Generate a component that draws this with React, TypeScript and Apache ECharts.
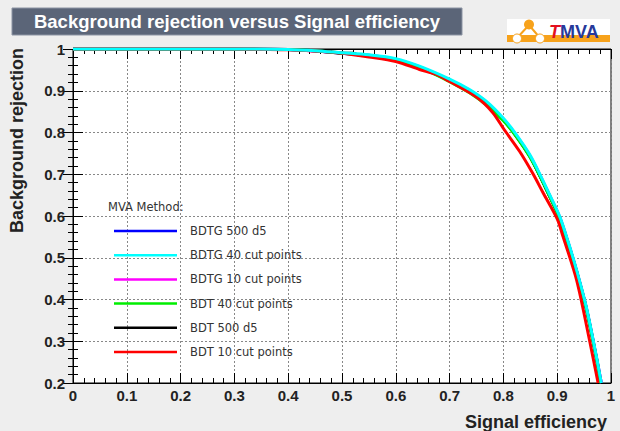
import React, { useEffect, useRef } from "react";
import * as echarts from "echarts";

// ---- Data ----
const seriesNames = [
  "BDTG 500 d5",
  "BDTG 40 cut points",
  "BDTG 10 cut points",
  "BDT 40 cut points",
  "BDT 500 d5",
  "BDT 10 cut points",
];
const seriesColors = ["#0000ff", "#00ffff", "#ff00ff", "#00ee00", "#000000", "#ff0000"];

const bdtg40cuts: [number, number][] = [
  [0, 1], [0.3, 1], [0.4, 0.999], [0.45, 0.996], [0.5, 0.991], [0.55, 0.986], [0.6, 0.977],
  [0.644, 0.959], [0.7, 0.928], [0.737, 0.903], [0.768, 0.875], [0.8, 0.834], [0.824, 0.795],
  [0.849, 0.747], [0.8675, 0.701], [0.886, 0.651], [0.905, 0.598], [0.92, 0.54],
  [0.936, 0.471], [0.954, 0.383], [0.973, 0.263], [0.982, 0.2],
];
const bdtg500d5: [number, number][] = [
  [0, 1], [0.3, 1], [0.4, 0.999], [0.45, 0.996], [0.5, 0.99], [0.55, 0.985], [0.6, 0.975],
  [0.644, 0.957], [0.7, 0.925], [0.737, 0.9], [0.768, 0.872], [0.8, 0.831], [0.824, 0.792],
  [0.849, 0.744], [0.8675, 0.698], [0.886, 0.648], [0.905, 0.595], [0.92, 0.537],
  [0.936, 0.468], [0.954, 0.38], [0.973, 0.26], [0.982, 0.2],
];
const bdtg10cuts: [number, number][] = [
  [0, 1], [0.3, 1], [0.4, 0.999], [0.45, 0.995], [0.5, 0.99], [0.55, 0.984], [0.6, 0.975],
  [0.644, 0.957], [0.7, 0.926], [0.737, 0.901], [0.768, 0.873], [0.8, 0.832], [0.824, 0.793],
  [0.849, 0.745], [0.8675, 0.699], [0.886, 0.649], [0.905, 0.596], [0.92, 0.538],
  [0.936, 0.469], [0.954, 0.381], [0.973, 0.261], [0.982, 0.2],
];
const bdt40cuts: [number, number][] = [
  [0, 1], [0.3, 1], [0.4, 0.999], [0.45, 0.996], [0.5, 0.99], [0.55, 0.984], [0.6, 0.974],
  [0.644, 0.956], [0.7, 0.922], [0.737, 0.895], [0.768, 0.866], [0.8, 0.828], [0.824, 0.79],
  [0.849, 0.742], [0.8675, 0.697], [0.886, 0.647], [0.905, 0.593], [0.92, 0.535],
  [0.936, 0.466], [0.954, 0.378], [0.973, 0.258], [0.981, 0.2],
];
const bdt500d5: [number, number][] = [
  [0, 1], [0.3, 1], [0.4, 0.999], [0.45, 0.996], [0.5, 0.99], [0.52, 0.99], [0.53, 0.986],
  [0.55, 0.984], [0.6, 0.974], [0.644, 0.956], [0.7, 0.924], [0.737, 0.898], [0.768, 0.87],
  [0.8, 0.83], [0.824, 0.791], [0.849, 0.743], [0.8675, 0.697], [0.886, 0.647], [0.905, 0.594],
  [0.92, 0.536], [0.936, 0.467], [0.954, 0.379], [0.973, 0.259], [0.981, 0.2],
];
const bdt10cuts: [number, number][] = [
  [0, 1], [0.3, 1], [0.35, 0.999], [0.4, 0.998], [0.45, 0.995], [0.5, 0.99], [0.55, 0.981],
  [0.6, 0.97], [0.644, 0.951], [0.675, 0.939], [0.7, 0.922], [0.75, 0.885], [0.78, 0.848],
  [0.802, 0.806], [0.83, 0.755], [0.855, 0.701], [0.874, 0.655], [0.9, 0.593], [0.911, 0.55],
  [0.936, 0.447], [0.96, 0.303], [0.976, 0.2],
];
const seriesData = [bdtg500d5, bdtg40cuts, bdtg10cuts, bdt40cuts, bdt500d5, bdt10cuts];
// drawing order (cyan on top of the overlapping BDTG curves)
const drawOrder = [0, 2, 4, 3, 5, 1];

const xMin = 0, xMax = 1, xStep = 0.1;
const yMin = 0.2, yMax = 1, yStep = 0.1;

const titleText = "Background rejection versus Signal efficiency";
const xTitle = "Signal efficiency";
const yTitle = "Background rejection";
const legendHeader = "MVA Method:";

const FONT = "'Liberation Sans', Arial, Helvetica, sans-serif";
const LEGEND_FONT = "'DejaVu Sans', Verdana, sans-serif";

export default function App() {
  const ref = useRef<HTMLDivElement>(null);
  useEffect(() => {
    if (!ref.current) return;
    const chart = echarts.init(ref.current, null, { renderer: "svg" });
    const fmt = (v: number) => String(Math.round(v * 10) / 10);
    const tickCommon = {
      axisLine: { show: true, lineStyle: { color: "#000", width: 1 } },
      axisTick: { show: true, inside: true, length: 10, lineStyle: { color: "#000" } },
      minorTick: { show: true, splitNumber: 5, length: 5, lineStyle: { color: "#000" } },
    };
    chart.setOption({
      animation: false,
      backgroundColor: "#eeeeee",
      grid: {
        left: 73, right: 9, top: 49, bottom: 48,
        show: true, backgroundColor: "#ffffff", borderColor: "#000", borderWidth: 1,
      },
      xAxis: [
        {
          type: "value", min: xMin, max: xMax, interval: xStep, position: "bottom",
          ...tickCommon,
          axisLabel: { formatter: fmt, fontSize: 15, fontWeight: "bold", color: "#222", fontFamily: FONT, margin: 5 },
          splitLine: { show: true, lineStyle: { type: [2, 2], color: "#888", width: 1 } },
        },
        {
          type: "value", min: xMin, max: xMax, interval: xStep, position: "top",
          ...tickCommon, axisLabel: { show: false }, splitLine: { show: false },
        },
      ],
      yAxis: [
        {
          type: "value", min: yMin, max: yMax, interval: yStep, position: "left",
          ...tickCommon,
          axisLabel: { formatter: fmt, fontSize: 15, fontWeight: "bold", color: "#222", fontFamily: FONT, margin: 8 },
          splitLine: { show: true, lineStyle: { type: [2, 2], color: "#888", width: 1 } },
        },
        {
          type: "value", min: yMin, max: yMax, interval: yStep, position: "right",
          ...tickCommon, axisLabel: { show: false }, splitLine: { show: false },
        },
      ],
      legend: {
        data: seriesNames,
        orient: "vertical",
        left: 114, top: 225,
        itemWidth: 63, itemHeight: 14, itemGap: 12.2,
        icon: "path://M0,0L63,0L63,2.5L0,2.5Z",
        symbolKeepAspect: true,
        padding: 0,
        textStyle: { fontSize: 11.5, color: "#333", fontFamily: LEGEND_FONT, padding: [0, 0, 0, 8] },
        selectedMode: false,
      },
      graphic: [
        {
          type: "rect", shape: { x: 12, y: 8, width: 450, height: 27 },
          style: { fill: "#5b6578", stroke: "#8c94a3", lineWidth: 1 },
        },
        {
          type: "text", x: 237, y: 21.5,
          style: { text: titleText, fill: "#ffffff", font: `bold 18.5px ${FONT}`, textAlign: "center", textVerticalAlign: "middle" },
        },
        {
          type: "group",
          children: [
            { type: "rect", shape: { x: 507, y: 19, width: 103, height: 23 }, style: { fill: "#ffffff" } },
            { type: "rect", shape: { x: 507, y: 35, width: 103, height: 7 }, style: { fill: "#f7a21b" } },
            { type: "line", shape: { x1: 529, y1: 25, x2: 517, y2: 38 }, style: { stroke: "#f7a21b", lineWidth: 2 } },
            { type: "line", shape: { x1: 529, y1: 25, x2: 540, y2: 38 }, style: { stroke: "#f7a21b", lineWidth: 2 } },
            { type: "circle", shape: { cx: 529, cy: 24.5, r: 5 }, style: { fill: "#f7a21b" } },
            { type: "circle", shape: { cx: 517, cy: 38.5, r: 4.5 }, style: { fill: "#ffffff", stroke: "#f7a21b", lineWidth: 1 } },
            { type: "circle", shape: { cx: 540, cy: 38.5, r: 4.5 }, style: { fill: "#ffffff", stroke: "#f7a21b", lineWidth: 1 } },
            {
              type: "text", x: 549, y: 41,
              style: {
                text: "{t|T}{m|MVA}", textVerticalAlign: "bottom",
                rich: {
                  t: { fill: "#e3101e", font: `italic bold 18px ${FONT}` },
                  m: { fill: "#27399a", font: `bold 18px ${FONT}` },
                },
              },
            },
          ],
        },
        {
          type: "text", x: 17, y: 48, rotation: Math.PI / 2,
          style: { text: yTitle, fill: "#222", font: `bold 18px ${FONT}`, textAlign: "right", textVerticalAlign: "middle" },
        },
        {
          type: "text", x: 607, y: 422,
          style: { text: xTitle, fill: "#222", font: `bold 18px ${FONT}`, textAlign: "right", textVerticalAlign: "middle" },
        },
        {
          type: "text", x: 108, y: 207,
          style: { text: legendHeader, fill: "#333", font: `11.5px ${LEGEND_FONT}`, textAlign: "left", textVerticalAlign: "middle" },
        },
      ],
      series: drawOrder.map((i) => ({
        name: seriesNames[i],
        type: "line",
        data: seriesData[i],
        symbol: "none",
        showSymbol: false,
        smooth: 0.3,
        xAxisIndex: 0,
        yAxisIndex: 0,
        color: seriesColors[i],
        lineStyle: { color: seriesColors[i], width: 3 },
        clip: true,
      })),
    });
    return () => chart.dispose();
  }, []);
  return (
    <div
      ref={ref}
      style={{ position: "absolute", left: 0, top: 0, width: 620, height: 431 }}
    />
  );
}
